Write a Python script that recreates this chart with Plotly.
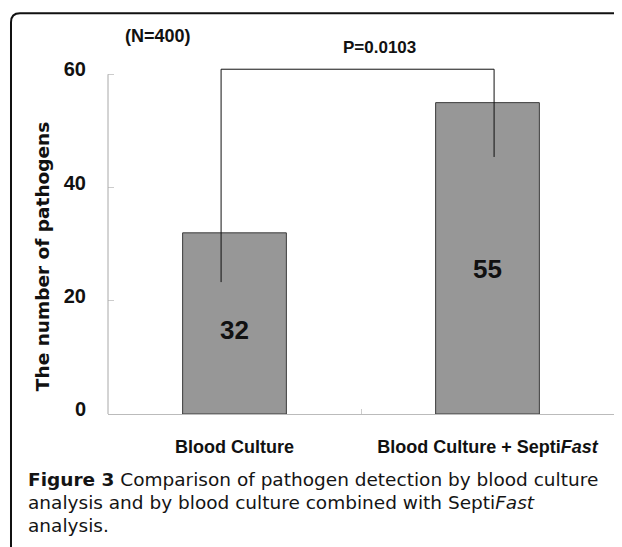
import plotly.graph_objects as go

# ---- data ----
categories = ["Blood Culture", "Blood Culture + SeptiFast"]
category_labels = ["Blood Culture", "Blood Culture + Septi<i>Fast</i>"]
pathogens = [32, 55]
y_ticks = [0, 20, 40, 60]
bracket_y_top = 60.9
bracket_left_bottom = 23.3
bracket_right_bottom = 45.4
p_label = "P=0.0103"
n_label = "(N=400)"
y_title = "The number of pathogens"
caption_lines = [
    "<b>Figure 3</b> Comparison of pathogen detection by blood culture",
    "analysis and by blood culture combined with Septi<i>Fast</i>",
    "analysis.",
]

# page body has an 8px margin, so the figure is drawn 8px smaller
OFF = 8
W, H = 622 - OFF, 547 - OFF
ML, MR, MT, MB = 100, 8, 54.7, 133
PW, PH = W - ML - MR, H - MT - MB


def px(x_ref):
    return (x_ref - OFF - ML) / PW


def py(y_ref):
    return (H - MB - (y_ref - OFF)) / PH


BOLD = "Liberation Sans, Arial, sans-serif"
WIDE = "DejaVu Sans, Verdana, sans-serif"

fig = go.Figure()
fig.add_trace(go.Bar(
    x=categories, y=pathogens, width=0.41,
    marker=dict(color="#979797", line=dict(color="#3a3a3a", width=1)),
    hoverinfo="skip",
))

# value labels inside bars
for c, v in zip(categories, pathogens):
    fig.add_annotation(x=c, y=v * 0.465, text="<b>%d</b>" % v, showarrow=False,
                       xanchor="center", yanchor="middle",
                       font=dict(family=BOLD, size=26, color="#111111"),
                       xref="x", yref="y")

# significance bracket
fig.add_shape(type="path", xref="x", yref="y",
              path="M %f,%f L %f,%f L %f,%f L %f,%f" % (
                  -0.053, bracket_left_bottom, -0.053, bracket_y_top,
                  1.026, bracket_y_top, 1.026, bracket_right_bottom),
              line=dict(color="#111111", width=1))

# y axis line (only up to 60)
fig.add_shape(type="line", xref="paper", yref="y", x0=0, x1=0, y0=0, y1=60,
              line=dict(color="#a8a8a8", width=1))

fig.add_annotation(xref="paper", yref="paper", x=px(379), y=py(47.5), text="<b>%s</b>" % p_label,
                   xanchor="center", yanchor="middle",
                   showarrow=False, font=dict(family=BOLD, size=17, color="#111111"))
fig.add_annotation(xref="paper", yref="paper", x=px(158), y=py(35.5), text="<b>%s</b>" % n_label,
                   xanchor="center", yanchor="middle",
                   showarrow=False, font=dict(family=BOLD, size=18, color="#111111"))
fig.add_annotation(xref="paper", yref="paper", x=px(42), y=py(257), text="<b>%s</b>" % y_title,
                   xanchor="center", yanchor="middle",
                   textangle=-90, showarrow=False, font=dict(family=WIDE, size=18.5, color="#111111"))

# caption (baselines approx 486, 509, 532)
cap_font = dict(family=WIDE, size=18.5, color="#141414")
for i, t in enumerate(caption_lines):
    fig.add_annotation(xref="paper", yref="paper", x=px(27), y=py(480 + 23 * i), text=t,
                       xanchor="left", yanchor="middle", showarrow=False, borderpad=0,
                       font=cap_font)

# frame with rounded corner
fig.add_shape(type="path", xref="paper", yref="paper",
              path="M %f,%f L %f,%f Q %f,%f %f,%f L %f,%f" % (
                  px(11), py(560), px(11), py(22), px(11), py(13), px(20), py(13), px(640), py(13)),
              line=dict(color="#111111", width=2))

fig.update_layout(
    width=W, height=H,
    margin=dict(l=ML, r=MR, t=MT, b=MB, pad=0),
    paper_bgcolor="white", plot_bgcolor="white",
    showlegend=False,
    xaxis=dict(
        type="category", tickvals=categories, ticktext=category_labels,
        range=[-0.5, 1.5], showline=True, linecolor="#bbbbbb", linewidth=1,
        ticks="inside", ticklen=5, tickcolor="#cccccc", tickson="boundaries",
        tickfont=dict(family=BOLD, size=18, color="#111111", weight="bold"),
        ticklabelstandoff=16, showgrid=False, zeroline=False,
    ),
    yaxis=dict(
        range=[0, 62], tickvals=y_ticks, showline=False,
        ticks="inside", ticklen=6, tickcolor="#cccccc",
        tickfont=dict(family=BOLD, size=20, color="#111111", weight="bold"),
        ticklabelstandoff=21, ticklabelshift=-5,
        showgrid=False, zeroline=False,
    ),
)

fig.write_html("out.html")
